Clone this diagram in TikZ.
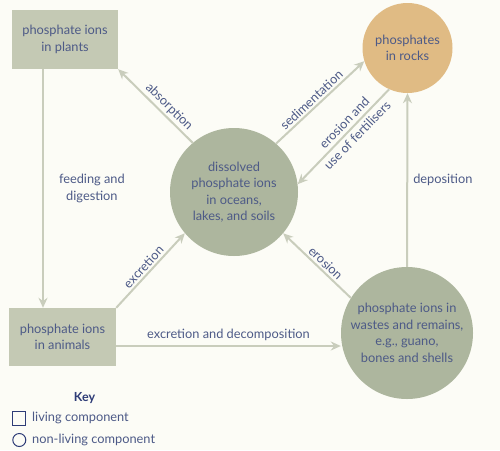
\documentclass[tikz,border=0pt]{standalone}
\usepackage{fontspec}
\setmainfont{Lato}
\usetikzlibrary{arrows.meta}
\definecolor{bg}{HTML}{FCFCF6}
\definecolor{boxc}{HTML}{C4C9B4}
\definecolor{circc}{HTML}{ADB69E}
\definecolor{rockc}{HTML}{E0BB84}
\definecolor{linec}{HTML}{C9CDBC}
\definecolor{txt}{HTML}{4D5A87}
\definecolor{keyc}{HTML}{2E3C77}
\begin{document}
\begin{tikzpicture}[x=1pt,y=-1pt,
  every node/.style={text=txt, font=\fontsize{12.8}{16.5}\selectfont, inner sep=0pt},
  livebox/.style={fill=boxc, minimum width=106pt, minimum height=59pt, align=center},
  nonlive/.style={circle, fill=circc, align=center},
  conn/.style={draw=linec, line width=2pt, -{Stealth[length=10pt,width=9pt]}},
  lbl/.style={sloped, inner sep=2pt, align=center},
  keyicon/.style={draw=keyc, line width=1pt, minimum size=13.5pt}]
\fill[bg] (0,0) rectangle (500,450);
\useasboundingbox (0,0) rectangle (500,450);

\node[livebox] (plants) at (65,39.5) {phosphate ions\\in plants};
\node[livebox, minimum width=107pt, minimum height=58pt] (animals) at (62.5,337) {phosphate ions\\in animals};
\node[nonlive, minimum size=128pt] (dissolved) at (234,192) {dissolved\\phosphate ions\\in oceans,\\lakes, and soils};
\node[nonlive, fill=rockc, minimum size=90pt] (rocks) at (407.5,48) {phosphates\\in rocks};
\node[nonlive, minimum size=132pt] (wastes) at (407,333) {phosphate ions in\\wastes and remains,\\e.g., guano,\\bones and shells};

\draw[conn] (dissolved.130) -- (plants.south east)
  node[lbl, pos=0.4, above] {absorption};
\draw[conn] (dissolved.49) -- (rocks.197)
  node[lbl, pos=0.46, above] {sedimentation};
\draw[conn] (rocks.246) -- (dissolved.7)
  node[lbl, pos=0.42, font=\fontsize{12.8}{18}\selectfont] {erosion and\\use of fertilisers};
\draw[conn] (animals.north east) -- (dissolved.220)
  node[lbl, pos=0.48, above] {excretion};
\draw[conn] (wastes.148) -- (dissolved.320)
  node[lbl, pos=0.45, above] {erosion};
\draw[conn] ([yshift=-9pt]animals.east) -- ([yshift=-9pt]animals.east -| wastes.west)
  node[midway, above=4pt] {excretion and decomposition};
\draw[conn] (wastes.north) -- (rocks.south)
  node[midway, right=5pt] {deposition};
\draw[conn] ([xshift=-22pt]plants.south) -- ([xshift=-22pt]plants.south |- animals.north)
  node[midway, right=15pt, align=center] {feeding and\\digestion};

\node[text=keyc, font=\bfseries\fontsize{12.5}{14}\selectfont] (key) at (84.5,398) {Key};
\node[keyicon] (sq) at (19.2,418.3) {};
\node[anchor=west] (living) at (32,418) {living component};
\node[keyicon, circle, minimum size=13pt] (ci) at (19.3,440) {};
\node[anchor=west] (nonliving) at (32,440) {non-living component};
\end{tikzpicture}
\end{document}
